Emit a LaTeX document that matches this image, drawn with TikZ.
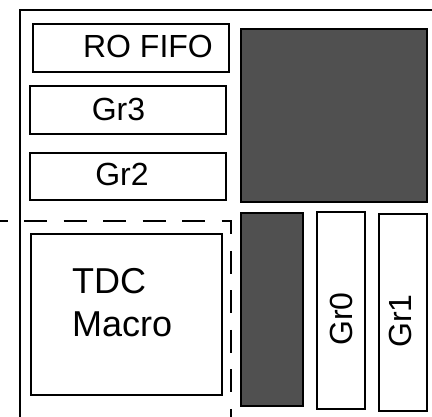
\documentclass[tikz,border=0pt]{standalone}
\usepackage{fontspec}
\setmainfont{Liberation Sans}
\definecolor{fillgray}{HTML}{505050}
\tikzset{blk/.style={draw, line width=2pt, inner sep=0pt, fill=white},
  darkblk/.style={blk, fill=fillgray},
  lbl/.style={inner sep=0pt, font=\fontsize{32}{38}\selectfont}}

\begin{document}
\begin{tikzpicture}[x=1pt, y=-1pt]
    \useasboundingbox (0,0) rectangle (432,417);
    \coordinate (TL) at (20,10); \coordinate (TR) at (440,10);
    \coordinate (BL) at (20,425);
    \draw[line width=2pt] (TR) -- (TL) -- (BL);
    \node (fifo) [blk, minimum width=196, minimum height=48] at (131,48)
    {}; \node (gr3) [blk, minimum width=196, minimum height=48] at (128,110)
    {}; \node (gr2) [blk, minimum width=196, minimum height=47] at (128,176.5)
    {}; \node (big) [darkblk, minimum width=186, minimum height=173] at (334,115.5)
    {}; \node (tdc) [blk, minimum width=191, minimum height=161] at (126.5,314.5)
    {}; \node (bar) [darkblk, minimum width=62, minimum height=193] at (272,309.5)
    {}; \node (gr0) [blk, minimum width=48, minimum height=197] at (341,310.5)
    {}; \node (gr1) [blk, minimum width=48, minimum height=197] at (403,312.5)
    {};
    \node (fifo-t) [lbl] at (148,46) {RO FIFO};
    \node (gr3-t) [lbl] at (118.5,109) {Gr3};
    \node (gr2-t) [lbl] at (122,174) {Gr2};
    \node (gr0-t) [lbl, rotate=90] at (341,319) {Gr0};
    \node (gr1-t) [lbl, rotate=90] at (400,321) {Gr1};
    \node (tdc-t) [lbl, font=\fontsize{36}{43}\selectfont, align=left, anchor=west]
    at (72,302.5) {TDC\\Macro};
    \coordinate (DL) at (0,221); \coordinate (DC) at (231,221);
    \coordinate (DB) at (231,425);
    \draw[line width=2pt, dash pattern=on 23pt off 16.5pt, dash phase=15.5pt]
    (DL) -- (DC) -- (DB);
  \end{tikzpicture}
\end{document}
